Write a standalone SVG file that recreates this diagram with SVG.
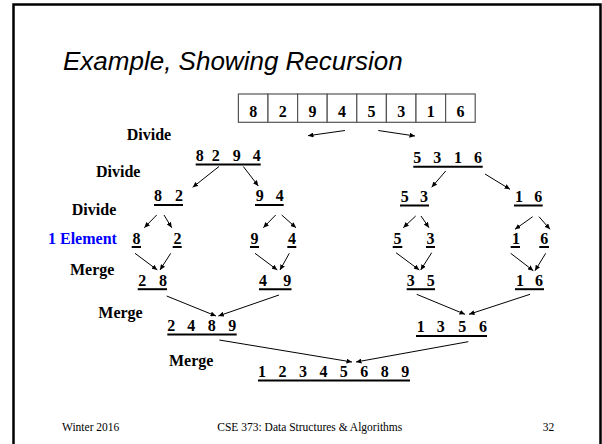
<svg xmlns="http://www.w3.org/2000/svg" width="602" height="444" viewBox="0 0 602 444">
  <style>
    .num { font-family: "Liberation Serif", "Times New Roman", serif; font-weight: bold; font-size: 16px; fill: #000; }
    .lbl { font-family: "Liberation Serif", "Times New Roman", serif; font-weight: bold; font-size: 16px; fill: #000; }
    .blue { fill: #0000ff; }
    .title { font-family: "Liberation Sans", Arial, sans-serif; font-style: italic; font-size: 26px; fill: #000; }
    .foot { font-family: "Liberation Serif", "Times New Roman", serif; font-size: 11.5px; fill: #000; }
    .ul { stroke: #000; stroke-width: 2; }
    .cell { fill: #fff; stroke: #555; stroke-width: 1.2; }
    .conn line { stroke: #000; stroke-width: 1; marker-end: url(#tip); }
  </style>
  <defs>
    <marker id="tip" markerUnits="userSpaceOnUse" markerWidth="6" markerHeight="5" refX="5.5" refY="2.5" orient="auto">
      <path d="M0,0 L5.5,2.5 L0,5 Z" fill="#000"/>
    </marker>
  </defs>

  <rect width="602" height="444" fill="#fff"/>
  <!-- slide frame -->
  <path d="M13.5,446 V4.5 H600.5 V446" fill="none" stroke="#000" stroke-width="2.5"/>

  <text class="title" x="63" y="70">Example, Showing Recursion</text>

  <!-- input array -->
  <g id="array">
    <rect class="cell" x="238.4" y="94" width="29.6" height="28.3"/>
    <rect class="cell" x="268" y="94" width="29.6" height="28.3"/>
    <rect class="cell" x="297.6" y="94" width="29.6" height="28.3"/>
    <rect class="cell" x="327.2" y="94" width="29.6" height="28.3"/>
    <rect class="cell" x="356.8" y="94" width="29.6" height="28.3"/>
    <rect class="cell" x="386.4" y="94" width="29.6" height="28.3"/>
    <rect class="cell" x="416" y="94" width="29.6" height="28.3"/>
    <rect class="cell" x="445.6" y="94" width="29.6" height="28.3"/>
    <g class="num" text-anchor="middle">
      <text x="253.2" y="116.7">8</text>
      <text x="282.8" y="116.7">2</text>
      <text x="312.4" y="116.7">9</text>
      <text x="342" y="116.7">4</text>
      <text x="371.6" y="116.7">5</text>
      <text x="401.2" y="116.7">3</text>
      <text x="430.8" y="116.7">1</text>
      <text x="460.4" y="116.7">6</text>
    </g>
  </g>

  <!-- step labels -->
  <g id="labels">
    <text class="lbl" x="126.7" y="139.5">Divide</text>
    <text class="lbl" x="96" y="176.7">Divide</text>
    <text class="lbl" x="71.8" y="215">Divide</text>
    <text class="lbl blue" x="48" y="244">1 Element</text>
    <text class="lbl" x="70" y="275">Merge</text>
    <text class="lbl" x="98.3" y="318">Merge</text>
    <text class="lbl" x="169" y="366">Merge</text>
  </g>

  <!-- divide level 1 -->
  <g id="n8294">
    <text class="num" x="195.7 203.7 211.7 219.7 232.7 240.7 252.7" y="161">8 2 9 4</text>
    <line class="ul" x1="195.7" y1="164.5" x2="260.7" y2="164.5"/>
  </g>
  <g id="n5316">
    <text class="num" x="413.3 421.3 433.3 441.3 454 462 474" y="163.3">5 3 1 6</text>
    <line class="ul" x1="413.3" y1="166.8" x2="482.7" y2="166.8"/>
  </g>

  <!-- divide level 2 -->
  <g id="n82">
    <text class="num" x="154 162 175" y="201">8 2</text>
    <line class="ul" x1="154" y1="205" x2="183" y2="205"/>
  </g>
  <g id="n94">
    <text class="num" x="255.7 263.7 275.7" y="201">9 4</text>
    <line class="ul" x1="255" y1="205" x2="283.7" y2="205"/>
  </g>
  <g id="n53">
    <text class="num" x="400.7 408.7 420" y="201.7">5 3</text>
    <line class="ul" x1="400" y1="205.5" x2="429" y2="205.5"/>
  </g>
  <g id="n16a">
    <text class="num" x="515 523 534.3" y="201.7">1 6</text>
    <line class="ul" x1="514" y1="205.5" x2="542.7" y2="205.5"/>
  </g>

  <!-- single elements -->
  <g id="e8"><text class="num" x="132.4" y="243.5">8</text><line class="ul" x1="131.7" y1="247" x2="141" y2="247"/></g>
  <g id="e2"><text class="num" x="173.5" y="243.5">2</text><line class="ul" x1="172.7" y1="247" x2="181.7" y2="247"/></g>
  <g id="e9"><text class="num" x="250.5" y="243.5">9</text><line class="ul" x1="250" y1="247" x2="259" y2="247"/></g>
  <g id="e4"><text class="num" x="288" y="243.5">4</text><line class="ul" x1="287.3" y1="247" x2="296.3" y2="247"/></g>
  <g id="e5"><text class="num" x="393.4" y="243.5">5</text><line class="ul" x1="392.7" y1="247" x2="402.3" y2="247"/></g>
  <g id="e3"><text class="num" x="426.5" y="243.5">3</text><line class="ul" x1="426" y1="247" x2="435" y2="247"/></g>
  <g id="e1"><text class="num" x="512" y="243.5">1</text><line class="ul" x1="510.7" y1="247" x2="520" y2="247"/></g>
  <g id="e6"><text class="num" x="540.2" y="243.5">6</text><line class="ul" x1="539.3" y1="247" x2="549" y2="247"/></g>

  <!-- merge level 1 -->
  <g id="n28">
    <text class="num" x="138.3 146.3 159" y="285.5">2 8</text>
    <line class="ul" x1="137.7" y1="289.2" x2="167" y2="289.2"/>
  </g>
  <g id="n49">
    <text class="num" x="259 267 283.3" y="285.5">4 9</text>
    <line class="ul" x1="259" y1="289.2" x2="291.5" y2="289.2"/>
  </g>
  <g id="n35">
    <text class="num" x="406.7 414.7 426.7" y="285.5">3 5</text>
    <line class="ul" x1="406.7" y1="289.2" x2="435" y2="289.2"/>
  </g>
  <g id="n16b">
    <text class="num" x="516 524 535" y="285.5">1 6</text>
    <line class="ul" x1="515" y1="289.2" x2="544" y2="289.2"/>
  </g>

  <!-- merge level 2 -->
  <g id="n2489">
    <text class="num" x="167.3 175.3 187.3 195.3 207.7 215.7 228.3" y="330.7">2 4 8 9</text>
    <line class="ul" x1="167.3" y1="334.4" x2="236.7" y2="334.4"/>
  </g>
  <g id="n1356">
    <text class="num" x="416.7 424.7 436.7 444.7 458.3 466.3 479" y="332.3">1 3 5 6</text>
    <line class="ul" x1="416" y1="336" x2="487" y2="336"/>
  </g>

  <!-- final result -->
  <g id="n12345689">
    <text class="num" x="258 266 278.5 286.5 298.9 306.9 319.4 327.4 339.8 347.8 360.3 368.3 380.7 388.7 401.2" y="376.7">1 2 3 4 5 6 8 9</text>
    <line class="ul" x1="258" y1="380.4" x2="410" y2="380.4"/>
  </g>

  <!-- connectors -->
  <g id="connectors" class="conn">
    <line x1="345" y1="130.5" x2="308" y2="135.7"/>
    <line x1="378.3" y1="130.5" x2="415" y2="136"/>
    <line x1="219" y1="166.5" x2="192.7" y2="187.3"/>
    <line x1="243.3" y1="166.5" x2="258.3" y2="186"/>
    <line x1="445.7" y1="171" x2="431.7" y2="187.3"/>
    <line x1="485" y1="174" x2="510" y2="189.3"/>
    <line x1="156.7" y1="215" x2="144.3" y2="227.7"/>
    <line x1="164" y1="215" x2="171.7" y2="227.7"/>
    <line x1="275.7" y1="215" x2="263.3" y2="227.7"/>
    <line x1="281.7" y1="215" x2="296" y2="227.7"/>
    <line x1="415.7" y1="216" x2="403.3" y2="227.7"/>
    <line x1="421" y1="216" x2="429" y2="227.7"/>
    <line x1="532.7" y1="216.7" x2="515" y2="229.3"/>
    <line x1="539" y1="216.7" x2="550" y2="229.3"/>
    <line x1="135" y1="253.3" x2="157.3" y2="270"/>
    <line x1="170.7" y1="253.3" x2="160" y2="270"/>
    <line x1="255" y1="253.3" x2="277.3" y2="270"/>
    <line x1="289.3" y1="253.3" x2="280" y2="270"/>
    <line x1="396" y1="252.7" x2="419.3" y2="270"/>
    <line x1="431.7" y1="252.7" x2="420.7" y2="270"/>
    <line x1="510.7" y1="253.3" x2="533.3" y2="270.7"/>
    <line x1="545.7" y1="253.3" x2="535" y2="270.7"/>
    <line x1="166.7" y1="296" x2="216" y2="316"/>
    <line x1="279" y1="295" x2="218.3" y2="316"/>
    <line x1="416.7" y1="294.3" x2="465" y2="314.3"/>
    <line x1="530" y1="294.3" x2="469" y2="314.3"/>
    <line x1="219.3" y1="340" x2="352" y2="362"/>
    <line x1="468.3" y1="341.7" x2="356" y2="362"/>
  </g>

  <!-- footer -->
  <text class="foot" x="62" y="430.7">Winter 2016</text>
  <text class="foot" x="217.3" y="430.7">CSE 373: Data Structures &amp; Algorithms</text>
  <text class="foot" x="542.7" y="430.7">32</text>
</svg>
